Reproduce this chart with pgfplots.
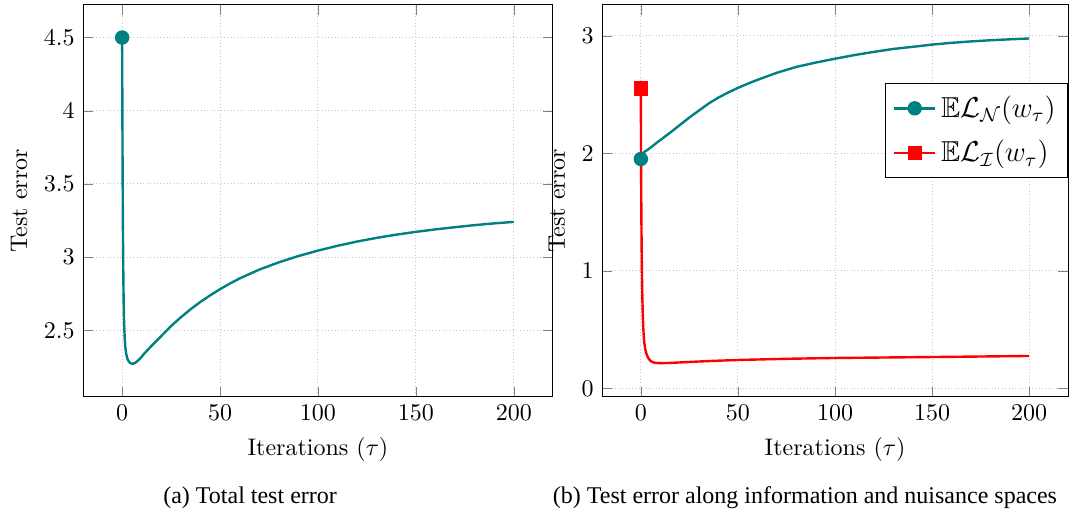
\documentclass[border=0pt]{standalone}
\usepackage{pgfplots}
\pgfplotsset{compat=1.18}
\usepackage{amssymb}
\usepackage{fontspec}
\newfontfamily\capfont{Liberation Serif}
\begin{document}
\begin{tikzpicture}
\pgfplotsset{
  common/.style={
    scale only axis,
    height=163.3pt,
    xmin=-20, xmax=220,
    xtick={0,50,100,150,200},
    grid=major,
    grid style={densely dotted, gray!45},
    major tick style={gray},
    xlabel={Iterations ($\tau$)},
    ylabel={Test error},
    every axis plot/.append style={line width=1pt},
    legend image code/.code={\draw[##1, mark indices={2}] plot coordinates {(0cm,0cm) (0.3cm,0cm) (0.6cm,0cm)};},
  }
}
\useasboundingbox (0,0) rectangle (446.67pt,213.33pt);
\begin{axis}[common,
  at={(34.58pt,48.0pt)}, anchor=south west,
  width=195.8pt,
  ymin=2.047, ymax=4.723,
  ytick={2.5,3,3.5,4,4.5},
  yticklabels={2.5,3,3.5,4,4.5},
]
\addplot[teal, mark=*, mark size=2.5pt, mark indices={1}] coordinates {
(0,4.5) (0.1,4.05) (0.2,3.7) (0.3,3.42) (0.4,3.2) (0.5,3.02) (0.65,2.82)
(0.8,2.67) (1.0,2.55) (1.3,2.45) (1.6,2.39) (2,2.345) (2.5,2.315) (3,2.297)
(3.5,2.287) (4,2.279) (4.5,2.275) (5,2.273) (5.5,2.273) (6,2.275) (7,2.282)
(8,2.293) (9.5,2.313) (11,2.338) (13,2.366) (15,2.395) (20,2.462) (25,2.53)
(30,2.59) (35,2.645) (40,2.695) (45,2.74) (50,2.782) (55,2.82) (60,2.855)
(70,2.915) (80,2.965) (90,3.008) (100,3.045) (110,3.078) (120,3.107)
(130,3.132) (140,3.154) (150,3.173) (160,3.19) (170,3.205) (180,3.219)
(190,3.231) (200,3.241)
};
\end{axis}
\begin{axis}[common,
  at={(250.83pt,48.0pt)}, anchor=south west,
  width=194.2pt,
  ymin=-0.07, ymax=3.263,
  ytick={0,1,2,3},
  legend style={at={(1,0.8)}, anchor=north east, draw=black, font=\large,
    row sep=4pt, inner ysep=3pt},
  legend cell align=left,
]
\addplot[teal, mark=*, mark size=2.5pt, mark indices={1}] coordinates {
(0,1.952) (0.5,1.985) (1,2.0) (2,2.015) (3.5,2.03) (5.5,2.055) (8,2.088)
(11,2.125) (15,2.175) (20,2.24) (25,2.305) (30,2.365) (35,2.425) (40,2.475)
(45,2.518) (50,2.557) (55,2.592) (60,2.625) (70,2.685) (80,2.735) (90,2.772)
(100,2.805) (110,2.836) (120,2.863) (130,2.888) (140,2.906) (150,2.925)
(160,2.94) (170,2.952) (180,2.962) (190,2.97) (200,2.977)
};
\addlegendentry{$\mathbb{E}\mathcal{L}_{\mathcal{N}}(w_\tau)$}
\addplot[red, mark=square*, mark size=2.5pt, mark indices={1}] coordinates {
(0,2.55) (0.1,2.05) (0.2,1.68) (0.3,1.42) (0.45,1.15) (0.6,0.95) (0.8,0.76)
(1.0,0.63) (1.3,0.5) (1.7,0.4) (2.2,0.34) (2.8,0.3) (3.5,0.27) (4.2,0.25)
(5,0.235) (6,0.225) (7.6,0.218) (10,0.216) (15,0.218) (20,0.222) (30,0.23)
(40,0.237) (50,0.243) (75,0.253) (100,0.26) (150,0.268) (200,0.277)
};
\addlegendentry{$\mathbb{E}\mathcal{L}_{\mathcal{I}}(w_\tau)$}
\end{axis}
\node[font=\capfont] at (104.2pt,6.0pt) {(a) Total test error};
\node[font=\capfont] at (335.4pt,6.0pt) {(b) Test error along information and nuisance spaces};
\end{tikzpicture}
\end{document}
